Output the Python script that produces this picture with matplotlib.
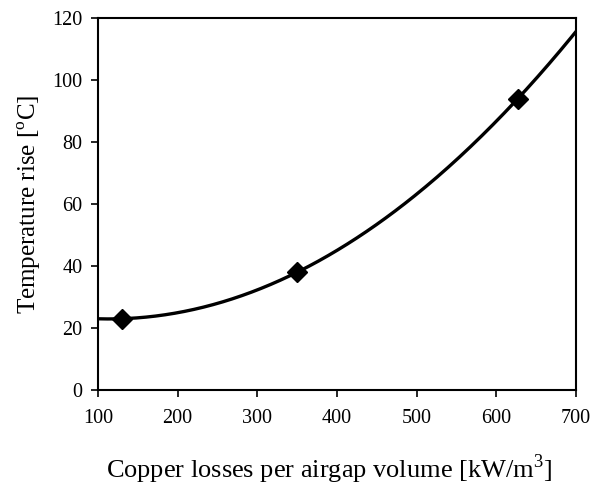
import numpy as np
import matplotlib
matplotlib.use("Agg")
import matplotlib.pyplot as plt

# Measured points
copper_losses = [130, 350, 627]   # kW/m^3
temp_rise = [23, 38, 94]          # degC

x_ticks = [100, 200, 300, 400, 500, 600, 700]
y_ticks = [0, 20, 40, 60, 80, 100, 120]

plt.rcParams['font.family'] = ['Liberation Serif', 'DejaVu Serif']
plt.rcParams['mathtext.fontset'] = 'custom'
plt.rcParams['mathtext.rm'] = 'Liberation Serif'

fig = plt.figure(figsize=(5.92, 4.94), dpi=100)
ax = fig.add_axes([0.1655, 0.2105, 0.8075, 0.753])

# Second-order trendline through the measurements
coef = np.polyfit(copper_losses, temp_rise, 2)
xs = np.linspace(x_ticks[0], x_ticks[-1], 300)
ax.plot(xs, np.polyval(coef, xs), color='black', lw=2.4, zorder=2)
ax.plot(copper_losses, temp_rise, linestyle='none', marker='D',
        ms=10, color='black', zorder=3)

ax.set_xlim(x_ticks[0], x_ticks[-1])
ax.set_ylim(y_ticks[0], y_ticks[-1])
ax.set_xticks(x_ticks)
ax.set_yticks(y_ticks)
ax.tick_params(direction='out', length=5, width=1.2, labelsize=14.5,
               top=False, right=False)
ax.tick_params(axis='x', pad=9)
ax.tick_params(axis='y', pad=6)
for s in ax.spines.values():
    s.set_linewidth(1.5)

ax.set_xlabel('Copper losses per airgap volume [kW/m$^3$]', fontsize=19,
              labelpad=17, x=0.483)
ax.set_ylabel('Temperature rise [$^{\\rm o}$C]', fontsize=18, labelpad=7)

fig.savefig('out.png', dpi=100)
